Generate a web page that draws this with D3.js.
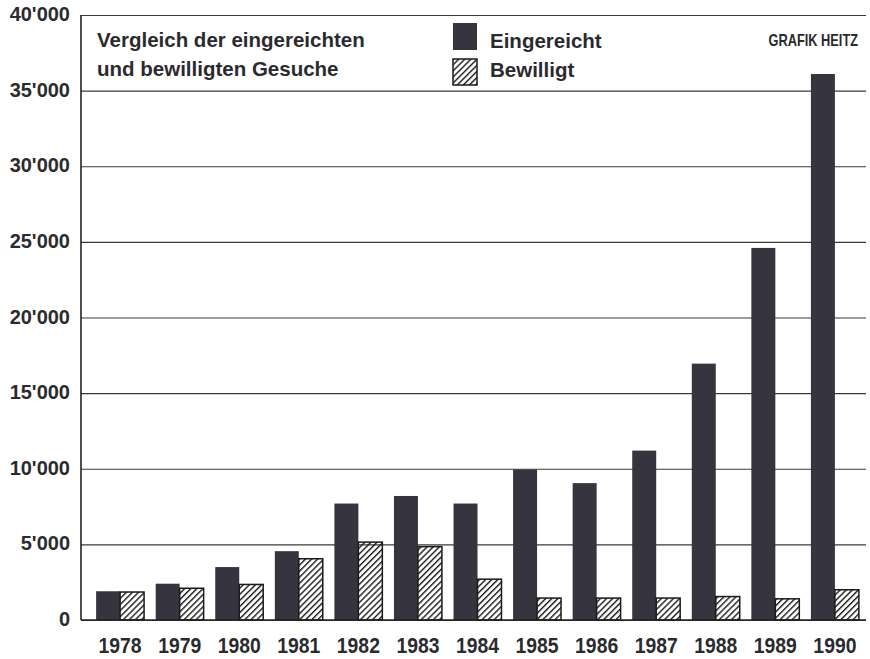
<!DOCTYPE html>
<html>
<head>
    <meta charset="utf-8">
    <script src="https://d3js.org/d3.v7.min.js"></script>
    <style>
        body { margin: 0; background-color: white; }
        text { fill: #2b2b2f; font-weight: bold; font-family: 'Liberation Sans', Arial, sans-serif; }
    </style>
</head>

<body>

<div id="mio_grafico"></div>

<script>
    // data
    var years = ["1978", "1979", "1980", "1981", "1982", "1983", "1984",
                 "1985", "1986", "1987", "1988", "1989", "1990"];
    var eingereicht = [1900, 2400, 3500, 4550, 7700, 8200, 7700,
                       9950, 9050, 11200, 16950, 24600, 36100];
    var bewilligt = [1850, 2100, 2350, 4050, 5150, 4850, 2700,
                     1450, 1450, 1450, 1550, 1400, 2000];
    var yTicks = [0, 5000, 10000, 15000, 20000, 25000, 30000, 35000, 40000];
    var titel = ["Vergleich der eingereichten", "und bewilligten Gesuche"];
    var legende = ["Eingereicht", "Bewilligt"];
    var quelle = "GRAFIK HEITZ";

    var width = 870, height = 659;
    var plotLeft = 81, plotRight = 866, plotTop = 15, plotBottom = 620;
    var dunkel = "#35343f";

    var svg = d3.select("#mio_grafico")
        .append("svg")
        .attr("width", width)
        .attr("height", height);

    // hatch pattern for "Bewilligt"
    var defs = svg.append("defs");
    defs.append("pattern")
        .attr("id", "schraffur")
        .attr("patternUnits", "userSpaceOnUse")
        .attr("width", 4.3)
        .attr("height", 4.3)
        .attr("patternTransform", "rotate(45)")
        .append("line")
        .attr("x1", 0.7).attr("y1", 0)
        .attr("x2", 0.7).attr("y2", 4.3)
        .attr("stroke", "#1a1a1a")
        .attr("stroke-width", 1.4);

    // scales
    var y = d3.scaleLinear()
        .domain([0, 40000])
        .range([plotBottom, plotTop]);

    var x = d3.scaleBand()
        .domain(years)
        .range([86, 869])
        .paddingInner(0.195)
        .paddingOuter(0.17);

    var half = x.bandwidth() / 2;

    var fmt = d3.formatLocale({decimal: ".", thousands: "'", grouping: [3], currency: ["", ""]}).format(",");

    // Y axis with gridlines
    var yAxis = svg.append("g")
        .attr("transform", "translate(" + plotLeft + ",0)")
        .call(d3.axisLeft(y)
            .tickValues(yTicks)
            .tickFormat(fmt)
            .tickSizeInner(-(plotRight - plotLeft))
            .tickSizeOuter(0)
            .tickPadding(11));

    yAxis.select(".domain").remove();
    yAxis.selectAll(".tick line")
        .attr("stroke", "#3a3a3a")
        .attr("stroke-width", 1.1);
    yAxis.selectAll(".tick text")
        .attr("dy", "0.28em")
        .attr("fill", "#2b2b2f")
        .style("font-family", "'Liberation Sans', Arial, sans-serif")
        .style("font-size", "20px");

    // vertical axis line
    svg.append("line")
        .attr("x1", plotLeft).attr("x2", plotLeft)
        .attr("y1", y(40000)).attr("y2", y(0))
        .attr("stroke", "#222")
        .attr("stroke-width", 1.6);

    // title box background
    svg.append("rect")
        .attr("x", plotLeft + 1)
        .attr("y", y(40000) + 1)
        .attr("width", plotRight - plotLeft - 1)
        .attr("height", y(35000) - y(40000) - 2)
        .attr("fill", "white");

    // bars: Eingereicht
    svg.selectAll("bar1")
        .data(years)
        .enter()
        .append("rect")
        .attr("x", function(d) { return x(d); })
        .attr("y", function(d, i) { return y(eingereicht[i]); })
        .attr("width", half)
        .attr("height", function(d, i) { return y(0) - y(eingereicht[i]); })
        .attr("fill", dunkel);

    // bars: Bewilligt
    svg.selectAll("bar2")
        .data(years)
        .enter()
        .append("rect")
        .attr("x", function(d) { return x(d) + half; })
        .attr("y", function(d, i) { return y(bewilligt[i]); })
        .attr("width", half)
        .attr("height", function(d, i) { return y(0) - y(bewilligt[i]); })
        .attr("fill", "url(#schraffur)")
        .attr("stroke", "#1a1a1a")
        .attr("stroke-width", 1.5);

    // baseline
    svg.append("line")
        .attr("x1", plotLeft).attr("x2", plotRight)
        .attr("y1", y(0)).attr("y2", y(0))
        .attr("stroke", "#222")
        .attr("stroke-width", 1.6);

    // X axis labels (squeezed a little, like the condensed original)
    var xAxis = svg.append("g")
        .attr("transform", "translate(0," + y(0) + ")")
        .call(d3.axisBottom(x).tickSize(0).tickPadding(17));
    xAxis.select(".domain").remove();
    xAxis.selectAll(".tick text")
        .attr("fill", "#2b2b2f")
        .attr("transform", "scale(0.88,1)")
        .style("font-family", "'Liberation Sans', Arial, sans-serif")
        .style("font-size", "22px");

    // title
    svg.selectAll("titel")
        .data(titel)
        .enter()
        .append("text")
        .attr("x", 97)
        .attr("y", function(d, i) { return 47 + i * 29; })
        .style("font-size", "20.5px")
        .text(function(d) { return d; });

    // legend
    svg.append("rect")
        .attr("x", 453).attr("y", 23)
        .attr("width", 24).attr("height", 27)
        .attr("fill", dunkel);
    svg.append("rect")
        .attr("x", 453).attr("y", 59)
        .attr("width", 24).attr("height", 26)
        .attr("fill", "url(#schraffur)")
        .attr("stroke", "#1a1a1a")
        .attr("stroke-width", 1.5);

    svg.selectAll("legende")
        .data(legende)
        .enter()
        .append("text")
        .attr("x", 490)
        .attr("y", function(d, i) { return 48 + i * 29; })
        .style("font-size", "20.5px")
        .text(function(d) { return d; });

    svg.append("text")
        .attr("text-anchor", "end")
        .attr("transform", "translate(858,46) scale(0.8,1)")
        .style("font-size", "16px")
        .text(quelle);

</script>

</body>
</html>
